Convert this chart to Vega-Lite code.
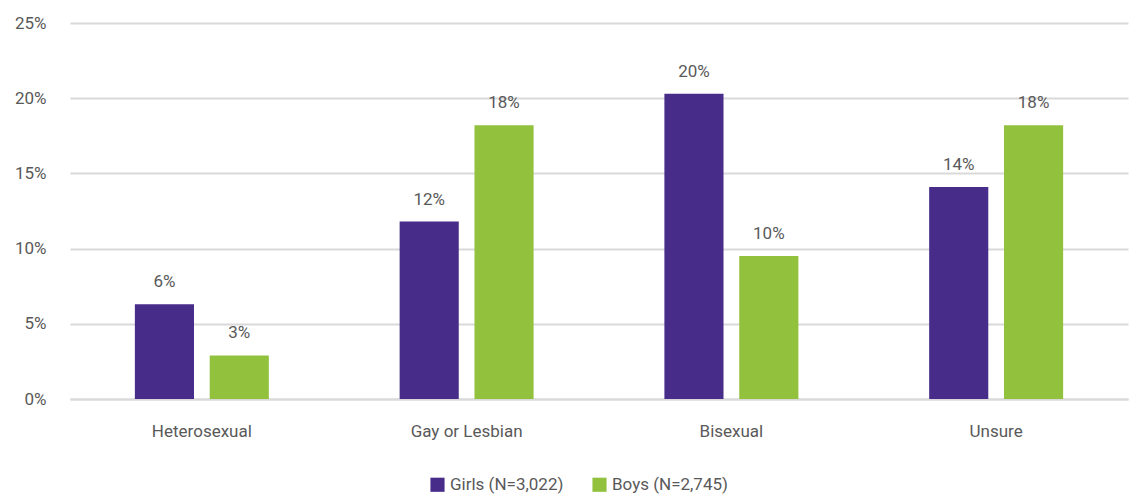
{
  "$schema": "https://vega.github.io/schema/vega-lite/v6.json",
  "autosize": "none",
  "width": 1058,
  "height": 376,
  "padding": {"left": 70, "top": 23, "right": 1, "bottom": 99},
  "background": "white",
  "config": {
    "font": "Roboto",
    "view": {"stroke": null}
  },
  "data": {
    "values": [
      {"orientation": "Heterosexual", "group": "Girls (N=3,022)", "value": 0.063},
      {"orientation": "Heterosexual", "group": "Boys (N=2,745)", "value": 0.029},
      {"orientation": "Gay or Lesbian", "group": "Girls (N=3,022)", "value": 0.118},
      {"orientation": "Gay or Lesbian", "group": "Boys (N=2,745)", "value": 0.182},
      {"orientation": "Bisexual", "group": "Girls (N=3,022)", "value": 0.203},
      {"orientation": "Bisexual", "group": "Boys (N=2,745)", "value": 0.095},
      {"orientation": "Unsure", "group": "Girls (N=3,022)", "value": 0.141},
      {"orientation": "Unsure", "group": "Boys (N=2,745)", "value": 0.182}
    ]
  },
  "encoding": {
    "x": {
      "field": "orientation", "type": "nominal", "sort": null,
      "scale": {"paddingInner": 0.494, "paddingOuter": 0.245},
      "axis": {"title": null, "labelAngle": 0, "ticks": false, "domain": true, "domainColor": "#d9d9d9", "domainWidth": 2,
               "labelFontSize": 17, "labelColor": "#595959", "labelPadding": 24}
    },
    "xOffset": {
      "field": "group", "type": "nominal", "sort": ["Girls (N=3,022)", "Boys (N=2,745)"],
      "scale": {"paddingInner": 0.21, "paddingOuter": 0}
    },
    "y": {
      "field": "value", "type": "quantitative",
      "scale": {"domain": [0, 0.25]},
      "axis": {"title": null, "format": ".0%", "values": [0, 0.05, 0.1, 0.15, 0.2, 0.25], "ticks": false, "domain": false,
               "gridColor": "#d9d9d9", "gridWidth": 2, "labelFontSize": 17, "labelColor": "#595959", "labelPadding": 24}
    }
  },
  "layer": [
    {
      "mark": {"type": "bar"},
      "encoding": {
        "color": {
          "field": "group", "type": "nominal",
          "sort": ["Girls (N=3,022)", "Boys (N=2,745)"],
          "scale": {"domain": ["Girls (N=3,022)", "Boys (N=2,745)"], "range": ["#472C8A", "#92C13E"]},
          "legend": {"title": null, "orient": "none", "legendX": 359, "legendY": 453, "direction": "horizontal", "symbolType": "square", "symbolSize": 200,
                     "labelFontSize": 17, "labelColor": "#595959", "columnPadding": 27, "symbolOpacity": 1, "symbolStrokeWidth": 0}
        }
      }
    },
    {
      "mark": {"type": "text", "baseline": "bottom", "dy": -13, "fontSize": 17, "color": "#595959"},
      "encoding": {"text": {"field": "value", "type": "quantitative", "format": ".0%"}}
    }
  ]
}
